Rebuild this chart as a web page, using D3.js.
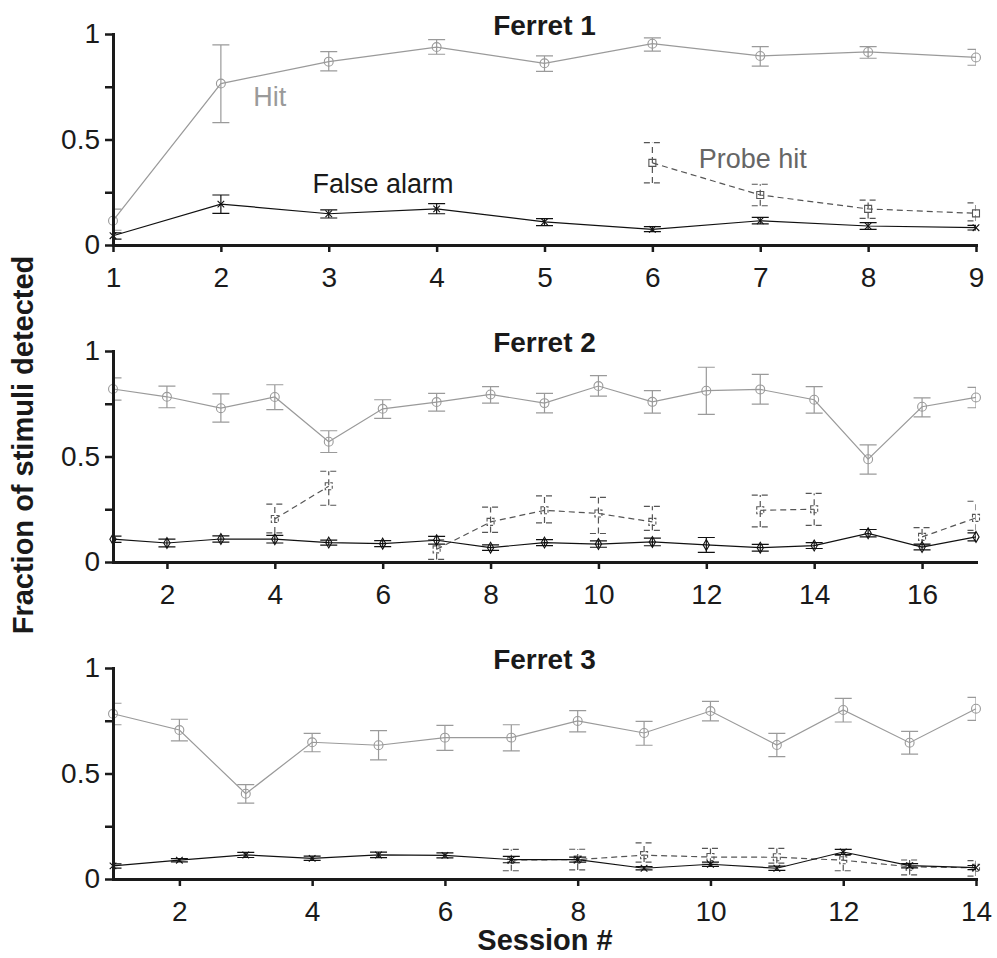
<!DOCTYPE html>
<html>
<head>
<meta charset="utf-8">
<script src="https://cdn.jsdelivr.net/npm/d3@7"></script>
<style>
    body { margin: 0; background: #fff; }
    text { font-family: "Liberation Sans", Arial, sans-serif; }
</style>
</head>
<body>
<div id="chart"></div>
<script>
// ---- data ----
var yTickValues = [0, 0.25, 0.5, 0.75, 1];
var yTickLabels = ["0", "", "0.5", "", "1"];

// Ferret 1, sessions 1-9
var f1Ticks = [1, 2, 3, 4, 5, 6, 7, 8, 9];
var f1Hit = [0.115, 0.765, 0.869, 0.938, 0.861, 0.954, 0.896, 0.915, 0.889];
var f1HitLo = [0.07, 0.58, 0.825, 0.904, 0.823, 0.919, 0.848, 0.885, 0.852];
var f1HitHi = [0.17, 0.948, 0.916, 0.973, 0.896, 0.982, 0.940, 0.940, 0.927];
var f1Fa = [0.044, 0.194, 0.148, 0.171, 0.110, 0.074, 0.115, 0.090, 0.082];
var f1FaLo = [0.028, 0.150, 0.128, 0.148, 0.092, 0.063, 0.100, 0.074, 0.071];
var f1FaHi = [0.057, 0.237, 0.166, 0.196, 0.125, 0.087, 0.131, 0.106, 0.093];
var f1Probe = [null, null, null, null, null, 0.389, 0.237, 0.171, 0.150];
var f1ProbeLo = [null, null, null, null, null, 0.294, 0.186, 0.126, 0.114];
var f1ProbeHi = [null, null, null, null, null, 0.485, 0.288, 0.213, 0.200];

// Ferret 2, sessions 1-17
var f2Ticks = [2, 4, 6, 8, 10, 12, 14, 16];
var f2Hit = [0.820, 0.783, 0.729, 0.782, 0.570, 0.726, 0.758, 0.794, 0.753, 0.834, 0.759, 0.812, 0.818, 0.769, 0.487, 0.736, 0.780];
var f2HitLo = [0.767, 0.731, 0.663, 0.722, 0.519, 0.681, 0.715, 0.753, 0.707, 0.786, 0.706, 0.700, 0.748, 0.706, 0.416, 0.688, 0.731];
var f2HitHi = [0.873, 0.834, 0.797, 0.840, 0.622, 0.769, 0.799, 0.831, 0.799, 0.883, 0.812, 0.923, 0.889, 0.831, 0.555, 0.778, 0.828];
var f2Fa = [0.108, 0.090, 0.109, 0.108, 0.092, 0.087, 0.103, 0.068, 0.092, 0.085, 0.095, 0.081, 0.068, 0.078, 0.136, 0.071, 0.119];
var f2FaLo = [0.093, 0.072, 0.094, 0.090, 0.080, 0.073, 0.085, 0.055, 0.078, 0.070, 0.077, 0.046, 0.052, 0.064, 0.119, 0.057, 0.100];
var f2FaHi = [0.123, 0.108, 0.124, 0.126, 0.104, 0.101, 0.121, 0.081, 0.106, 0.100, 0.113, 0.116, 0.084, 0.092, 0.154, 0.085, 0.138];
var f2Probe = [null, null, null, 0.204, 0.359, null, 0.060, 0.190, 0.245, 0.230, 0.190, null, 0.245, 0.250, null, 0.119, 0.209];
var f2ProbeLo = [null, null, null, 0.138, 0.269, null, 0.012, 0.140, 0.185, 0.135, 0.150, null, 0.166, 0.174, null, 0.080, 0.150];
var f2ProbeHi = [null, null, null, 0.274, 0.430, null, 0.105, 0.260, 0.313, 0.306, 0.264, null, 0.317, 0.325, null, 0.163, 0.288];

// Ferret 3, sessions 1-14
var f3Ticks = [2, 4, 6, 8, 10, 12, 14];
var f3Hit = [0.783, 0.706, 0.404, 0.648, 0.634, 0.670, 0.670, 0.749, 0.692, 0.796, 0.635, 0.801, 0.646, 0.807];
var f3HitLo = [0.731, 0.655, 0.360, 0.603, 0.565, 0.610, 0.607, 0.697, 0.634, 0.749, 0.580, 0.744, 0.592, 0.752];
var f3HitHi = [0.833, 0.757, 0.447, 0.690, 0.703, 0.728, 0.731, 0.798, 0.747, 0.842, 0.690, 0.856, 0.700, 0.861];
var f3Fa = [0.062, 0.089, 0.114, 0.098, 0.114, 0.112, 0.092, 0.092, 0.051, 0.070, 0.051, 0.128, 0.063, 0.054];
var f3FaLo = [0.052, 0.081, 0.102, 0.088, 0.101, 0.100, 0.077, 0.080, 0.043, 0.060, 0.041, 0.116, 0.053, 0.044];
var f3FaHi = [0.072, 0.097, 0.126, 0.108, 0.127, 0.124, 0.107, 0.104, 0.059, 0.080, 0.061, 0.140, 0.073, 0.064];
var f3Probe = [null, null, null, null, null, null, 0.090, 0.092, 0.113, 0.104, 0.103, 0.089, 0.058, 0.053];
var f3ProbeLo = [null, null, null, null, null, null, 0.039, 0.043, 0.080, 0.070, 0.075, 0.039, 0.020, 0.014];
var f3ProbeHi = [null, null, null, null, null, null, 0.140, 0.141, 0.171, 0.145, 0.145, 0.112, 0.090, 0.087];

// ---- layout ----
var width = 997, height = 958;
var left = 113, right = 976;
var hitColor = "#9a9a9a", probeColor = "#555", faColor = "#111";

var svg = d3.select("#chart").append("svg")
    .attr("width", width)
    .attr("height", height);

var panels = [
    { title: "Ferret 1", top: 34, bottom: 245, ticks: f1Ticks,
      hit: [f1Hit, f1HitLo, f1HitHi], fa: [f1Fa, f1FaLo, f1FaHi], probe: [f1Probe, f1ProbeLo, f1ProbeHi],
      faSymbol: d3.symbolTimes, faSize: 30, probeMarkDash: null },
    { title: "Ferret 2", top: 351, bottom: 562, ticks: f2Ticks,
      hit: [f2Hit, f2HitLo, f2HitHi], fa: [f2Fa, f2FaLo, f2FaHi], probe: [f2Probe, f2ProbeLo, f2ProbeHi],
      faSymbol: d3.symbolDiamond, faSize: 34, probeMarkDash: "3,2" },
    { title: "Ferret 3", top: 668, bottom: 879, ticks: f3Ticks,
      hit: [f3Hit, f3HitLo, f3HitHi], fa: [f3Fa, f3FaLo, f3FaHi], probe: [f3Probe, f3ProbeLo, f3ProbeHi],
      faSymbol: d3.symbolTimes, faSize: 30, probeMarkDash: "3,2" }
];

function drawSeries(g, x, y, clipId, s, opt) {
    var pts = s[0].map(function (v, i) {
        return { s: i + 1, v: v, lo: s[1][i], hi: s[2][i] };
    });
    var ok = pts.filter(function (d) { return d.v != null; });

    var line = d3.line()
        .defined(function (d) { return d.v != null; })
        .x(function (d) { return x(d.s); })
        .y(function (d) { return y(d.v); });

    g.append("path")
        .datum(pts)
        .attr("d", line)
        .attr("fill", "none")
        .attr("stroke", opt.color)
        .attr("stroke-width", 1.2)
        .attr("stroke-dasharray", opt.dash);

    // error bars, clipped to the x range like the original
    g.append("g")
        .attr("clip-path", "url(#" + clipId + ")")
        .selectAll("path")
        .data(ok)
        .enter().append("path")
        .attr("d", function (d) {
            var cx = x(d.s), c = 8.5;
            return "M" + cx + "," + y(d.lo) + "V" + y(d.hi) +
                "M" + (cx - c) + "," + y(d.lo) + "h" + 2 * c +
                "M" + (cx - c) + "," + y(d.hi) + "h" + 2 * c;
        })
        .attr("fill", "none")
        .attr("stroke", opt.color)
        .attr("stroke-width", 1.2)
        .attr("stroke-dasharray", opt.dash);

    g.append("g")
        .selectAll("path")
        .data(ok)
        .enter().append("path")
        .attr("transform", function (d) { return "translate(" + x(d.s) + "," + y(d.v) + ")"; })
        .attr("d", d3.symbol().type(opt.symbol).size(opt.size))
        .attr("fill", "none")
        .attr("stroke", opt.color)
        .attr("stroke-width", 1.1)
        .attr("stroke-dasharray", opt.markDash);
}

panels.forEach(function (p, i) {
    var n = p.hit[0].length;
    var x = d3.scaleLinear().domain([1, n]).range([left, right]);
    var y = d3.scaleLinear().domain([0, 1]).range([p.bottom, p.top]);
    var g = svg.append("g");
    var clipId = "clip" + i;

    svg.append("clipPath").attr("id", clipId)
        .append("rect")
        .attr("x", left).attr("y", p.top - 20)
        .attr("width", right - left).attr("height", p.bottom - p.top + 40);

    drawSeries(g, x, y, clipId, p.hit, { color: hitColor, dash: null, symbol: d3.symbolCircle, size: 62 });
    drawSeries(g, x, y, clipId, p.probe, { color: probeColor, dash: "6,4", symbol: d3.symbolSquare, size: 49, markDash: p.probeMarkDash });
    drawSeries(g, x, y, clipId, p.fa, { color: faColor, dash: null, symbol: p.faSymbol, size: p.faSize });

    // y axis
    var ya = svg.append("g")
        .call(d3.axisLeft(y)
            .tickValues(yTickValues)
            .tickFormat(function (d, k) { return yTickLabels[k]; })
            .tickSize(8).tickSizeOuter(0).tickPadding(5))
        .attr("transform", "translate(" + left + ",0)");

    // x axis
    var xa = svg.append("g")
        .attr("transform", "translate(0," + p.bottom + ")")
        .call(d3.axisBottom(x)
            .tickValues(p.ticks)
            .tickFormat(d3.format("d"))
            .tickSize(7).tickSizeOuter(0).tickPadding(15));

    [ya, xa].forEach(function (a) {
        a.select(".domain").attr("stroke", "#1a1a1a").attr("stroke-width", 3).attr("stroke-linecap", "square");
        a.selectAll(".tick line").attr("stroke", "#1a1a1a").attr("stroke-width", 2.5);
        a.selectAll(".tick text").attr("fill", "#1a1a1a")
            .style("font-size", "28px")
            .style("font-family", "'Liberation Sans', Arial, sans-serif");
    });

    svg.append("text")
        .attr("x", (left + right) / 2)
        .attr("y", p.top + 1)
        .attr("text-anchor", "middle")
        .style("font-size", "28px")
        .style("font-weight", "bold")
        .attr("fill", "#1a1a1a")
        .text(p.title);

    // series labels only in the first panel
    if (i === 0) {
        g.append("text").attr("x", x(2.3)).attr("y", y(0.66))
            .attr("fill", hitColor).style("font-size", "27px").text("Hit");
        g.append("text").attr("x", x(2.85)).attr("y", y(0.246))
            .attr("fill", "#1a1a1a").style("font-size", "27px").text("False alarm");
        g.append("text").attr("x", x(6.43)).attr("y", y(0.365))
            .attr("fill", "#666").style("font-size", "27px").text("Probe hit");
    }
});

svg.append("text")
    .attr("transform", "rotate(-90)")
    .attr("x", -445)
    .attr("y", 33)
    .attr("text-anchor", "middle")
    .style("font-size", "29px")
    .style("font-weight", "bold")
    .attr("fill", "#1a1a1a")
    .text("Fraction of stimuli detected");

svg.append("text")
    .attr("x", 545)
    .attr("y", 950)
    .attr("text-anchor", "middle")
    .style("font-size", "29px")
    .style("font-weight", "bold")
    .attr("fill", "#1a1a1a")
    .text("Session #");
</script>
</body>
</html>
